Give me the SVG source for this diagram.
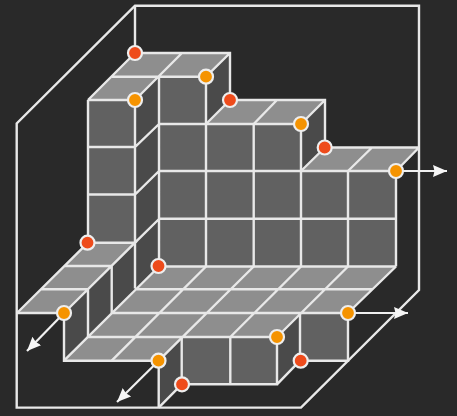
<svg xmlns="http://www.w3.org/2000/svg" width="457" height="416" viewBox="0 0 457 416">
<style>
.top{fill:#8e8e8e}.front{fill:#616161}.side{fill:#4a4a4a}
.ln{fill:none;stroke:#e8e8e8;stroke-width:2.4;stroke-linejoin:miter}
.arrow{fill:none;stroke:#f0f0f0;stroke-width:2.2;marker-end:url(#ah)}
.o{fill:#f59300;stroke:#eeeeee;stroke-width:2.2}.r{fill:#ee4b1b;stroke:#eeeeee;stroke-width:2.2}
</style>
<defs><marker id="ah" markerUnits="userSpaceOnUse" markerWidth="16" markerHeight="14" refX="14" refY="6.5" orient="auto"><path d="M0 0.5L14 6.5L0 12.5L1.5 6.5Z" fill="#f6f6f6"/></marker></defs>
<rect width="457" height="416" fill="#292929"/>
<g id="faces">
<path class="front" d="M159 76.7H206V124H301V171H396V266.5H159Z"/>
<path class="front" d="M88 100H135V242.7H88Z"/>
<path class="front" d="M181.7 337H277V384.3H181.7Z"/>
<path class="front" d="M300 313H348V360.7H300Z"/>
<path class="side" d="M135 100L159 76.7V266.5L135 288.5Z"/>
<path class="side" d="M206 76.7L230 53V100L206 124Z"/>
<path class="side" d="M301 124L325 100V147.5L301 171Z"/>
<path class="side" d="M111.7 266L135 242.7V288.5L111.7 313Z"/>
<path class="side" d="M64 313L111.7 266V313L88 336.7V337L64 360.7Z"/>
<path class="side" d="M158.7 360.7L181.7 337V384.3L158.7 407.6Z"/>
<path class="side" d="M277 337L300 313V360.7L277 384.3Z"/>
<path class="top" d="M135 53H230L206 76.7H159L135 100H88L112 76.7Z"/>
<path class="top" d="M230 100H325L301 124H206Z"/>
<path class="top" d="M325 147.5H419L396 171H301Z"/>
<path class="top" d="M88 242.7H135L64 313H17Z"/>
<path class="top" d="M159 266.5H396L348 313H300L277 337H181.7L158.7 360.7H64Z"/>
</g>
<g id="frame">
<path class="ln" d="M135 5.7H419V290L301 407.6H16.7V123.5Z"/>
<path class="ln" d="M135 5.7V53M16.7 313H64M158.7 360.7V407.6"/>
</g>
<g id="grid">
<path class="ln" d="M135 53H230V100M112 76.7H206M88 100H135M135 53L88 100M182 53L135 100M230 53L206 76.7M159 76.7V266.5M206 76.7V266.5M88 100V242.7M135 100V288.5M88 147H135L159 124M88 194.5H135L159 171M135 242.7L159 219M159 124H301M159 171H396M159 218.7H396M159 266.5H396"/>
<path class="ln" d="M230 100H325V147.5M206 124L230 100M253.7 124L277 100M301 124L325 100M253.7 124V266.5M301 124V266.5M348 171V266.5M396 171V266.5"/>
<path class="ln" d="M325 147.5H419M301 171L325 147.5M348 171L372 147.5M396 171L419 147.5"/>
<path class="ln" d="M88 242.7H135L64 313M88 242.7L17 313M65 266H111.7M41 289.3H88M64 313V360.7H158.7M88 289.3V337M111.7 266V313"/>
<path class="ln" d="M159 266.5L64 360.7M206 266.5L111.7 360.7M253.7 266.5L158.7 360.7M301 266.5L230.3 337M348 266.5L277 337M396 266.5L348 313M135 289.3H372M111.7 313H348M88 337H277"/>
<path class="ln" d="M181.7 337V384.3H277V337M230.3 337V384.3M300 313V360.7H348V313M277 384.3L300 360.7M158.7 407.6L181.7 384.3"/>
</g>
<g id="connectors">
<path class="arrow" d="M396 171H447"/>
<path class="arrow" d="M348 313H408"/>
<path class="arrow" d="M64 313L27 351"/>
<path class="arrow" d="M158.7 360.7L117 402"/>
</g>
<g id="n1"><circle class="r" cx="135" cy="53" r="7"/></g>
<g id="n2"><circle class="o" cx="206" cy="76.7" r="7"/></g>
<g id="n3"><circle class="o" cx="135" cy="100" r="7"/></g>
<g id="n4"><circle class="r" cx="230" cy="100" r="7"/></g>
<g id="n5"><circle class="o" cx="301" cy="124" r="7"/></g>
<g id="n6"><circle class="r" cx="324.7" cy="147.5" r="7"/></g>
<g id="n7"><circle class="o" cx="396" cy="171" r="7"/></g>
<g id="n8"><circle class="r" cx="87.5" cy="242.7" r="7"/></g>
<g id="n9"><circle class="r" cx="158.5" cy="266" r="7"/></g>
<g id="n10"><circle class="o" cx="64" cy="313" r="7"/></g>
<g id="n11"><circle class="o" cx="348" cy="313" r="7"/></g>
<g id="n12"><circle class="o" cx="277" cy="337" r="7"/></g>
<g id="n13"><circle class="o" cx="158.5" cy="360.7" r="7"/></g>
<g id="n14"><circle class="r" cx="300.7" cy="360.7" r="7"/></g>
<g id="n15"><circle class="r" cx="182" cy="384.3" r="7"/></g>
</svg>
